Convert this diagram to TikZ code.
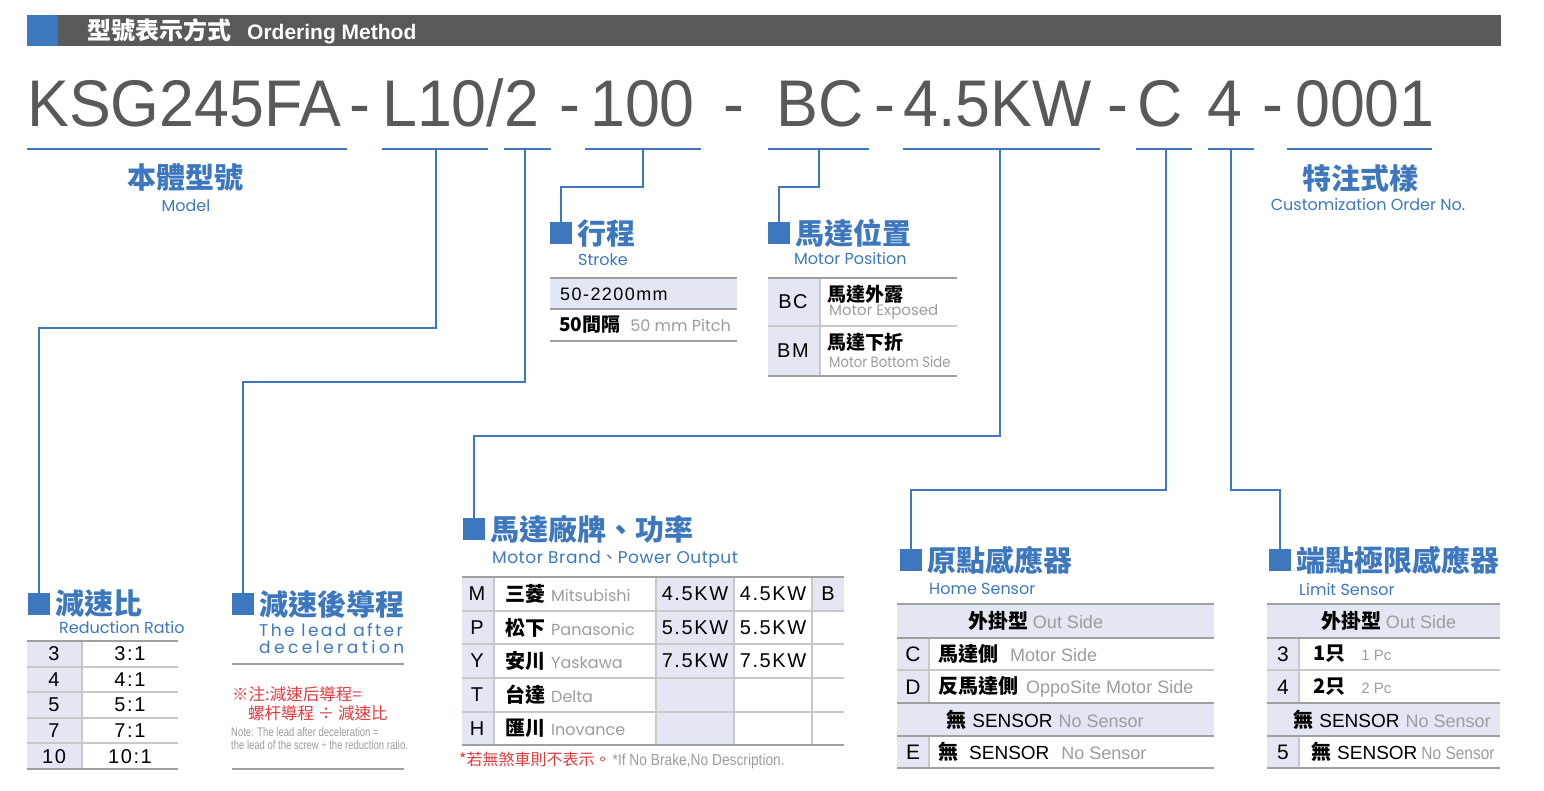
\documentclass[tikz,border=0pt]{standalone}
\usepackage{fontspec}
\setmainfont{Liberation Sans}
\newfontfamily\cjk{Noto Sans CJK TC}
\newfontfamily\geo{Poppins}
\newfontfamily\geonarrow[FakeStretch=0.88]{Poppins}
\newfontfamily\codefont[FakeStretch=0.95]{Liberation Sans}
\newfontfamily\spaced[LetterSpace=8]{Liberation Sans}
\newfontfamily\narrow[FakeStretch=0.76]{Liberation Sans}
\newfontfamily\narrowb[FakeStretch=0.86]{Liberation Sans}
\usetikzlibrary{positioning}
\definecolor{ksblue}{HTML}{3D77BE}
\definecolor{barcol}{HTML}{59585A}
\definecolor{codecol}{HTML}{59595B}
\definecolor{cellbg}{HTML}{E3E7F3}
\definecolor{rulecol}{HTML}{A0A0A0}
\definecolor{haircol}{HTML}{C8C8C8}
\definecolor{notered}{HTML}{E23B41}
\definecolor{softgray}{HTML}{9C9C9C}
\newcommand\fsz[1]{\fontsize{#1}{#1}\selectfont}
\newcommand\zb[2][20]{{\cjk\bfseries\fsz{#1}#2}}
\newcommand\gr[2][18]{{\rmfamily\mdseries\fsz{#1}\color{softgray}#2}}
\newcommand\ltr[2][19]{{\rmfamily\mdseries\fsz{#1}#2}}
\tikzstyle{code}=[anchor=base west,inner sep=0,text=codecol,font=\codefont\fsz{66}]
\tikzstyle{uline}=[ksblue,line width=2]
\tikzstyle{conn}=[ksblue,line width=2]
\tikzstyle{sq}=[fill=ksblue,minimum size=22,inner sep=0]
\tikzstyle{ttl}=[inner sep=0,text=ksblue,font=\cjk\bfseries\fsz{29}]
\tikzstyle{sub}=[anchor=west,inner sep=0,text=ksblue,font=\geo\fsz{16}]
\tikzstyle{rule}=[rulecol,line width=2]
\tikzstyle{rowline}=[haircol,line width=1.2]
\tikzstyle{cell}=[inner sep=0]
\tikzstyle{num}=[inner sep=0,font=\spaced\fsz{20}]

\begin{document}
\begin{tikzpicture}[x=1pt,y=-1pt]
  \useasboundingbox (0,0) rectangle (1544,791);

  % HEADER
  \fill[barcol] (27,15) rectangle (1501,46);
  \fill[ksblue] (27,15) rectangle (58,46);
  \node[anchor=west,inner sep=0,text=white] (head) at (87,31)
    {\zb[24]{型號表示方式}\hspace{16pt}{\rmfamily\bfseries\fsz{21}Ordering Method}};

  % MODEL CODE
  \foreach \x/\t [count=\i] in {27/KSG245FA,349/-,382/{L10/2},559/-,590/100,723/-,776/BC,
      874/-,903/4.5KW,1107/-,1137/C,1207/4,1262/-,1295/0001}
    \node[code] (code\i) at (\x,127) {\t};
  \foreach \a/\b in {27/347,382/488,504/551,585/701,768/869,903/1100,1136/1192,1208/1254,1287/1432}
    \draw[uline] (\a,149) -- (\b,149);
  \coordinate (uL) at (436,149);  % L10
  \coordinate (uS) at (525,149);  % /2
  \coordinate (uT) at (643,149);  % 100
  \coordinate (uB) at (819,149);  % BC
  \coordinate (uK) at (1000,149); % 4.5KW
  \coordinate (uC) at (1166,149); % C
  \coordinate (uN) at (1231,149); % 4

  % SQUARES
  \node[sq] (sqRatio) at (39,604) {};
  \node[sq] (sqLead) at (243,604) {};
  \node[sq] (sqStroke) at (561,233) {};
  \node[sq] (sqPos) at (779,233) {};
  \node[sq] (sqBrand) at (474,529) {};
  \node[sq] (sqHome) at (911,560) {};
  \node[sq] (sqLimit) at (1280,560) {};

  % CONNECTORS
  \draw[conn] (uL) -- ++(0,179) -| (sqRatio.north);
  \draw[conn] (uS) -- ++(0,233) -| (sqLead.north);
  \draw[conn] (uT) -- ++(0,38) -| (sqStroke.north);
  \draw[conn] (uB) -- ++(0,38) -| (sqPos.north);
  \draw[conn] (uK) -- ++(0,287) -| (sqBrand.north);
  \draw[conn] (uC) -- ++(0,341) -| (sqHome.north);
  \draw[conn] (uN) -- ++(0,341) -| (sqLimit.north);

  % TITLES
  \node[ttl] (tModel) at (185,178) {本體型號};
  \node[cell,text=ksblue,font=\geo\fsz{16}] (sModel) at (186,206) {Model};
  \node[ttl] (tCustom) at (1360,178) {特注式樣};
  \node[cell,text=ksblue,font=\geo\fsz{16}] (sCustom) at (1368,204) {Customization Order No.};
  \node[ttl,right=5pt of sqRatio] (tRatio) {減速比};
  \node[sub] (sRatio) at (59,627) {Reduction Ratio};
  \node[ttl,right=5pt of sqLead] (tLead) {減速後導程};
  \node[sub] (sLead1) at (259,630) {\fsz{17}\addfontfeature{LetterSpace=14}The lead after};
  \node[sub] (sLead2) at (259,647) {\fsz{17}\addfontfeature{LetterSpace=20}deceleration};
  \node[ttl,right=5pt of sqStroke] (tStroke) {行程};
  \node[sub] (sStroke) at (578,260) {Stroke};
  \node[ttl,right=5pt of sqPos] (tPos) {馬達位置};
  \node[sub] (sPos) at (794,258) {Motor Position};
  \node[ttl,right=5pt of sqBrand] (tBrand) {馬達廠牌、功率};
  \node[sub] (sBrand) at (492,559) {\fsz{17}\addfontfeature{LetterSpace=3}Motor Brand{\cjk 、}Power Output};
  \node[ttl,right=5pt of sqHome] (tHome) {原點感應器};
  \node[sub] (sHome) at (929,589) {Home Sensor};
  \node[ttl,right=5pt of sqLimit] (tLimit) {端點極限感應器};
  \node[sub] (sLimit) at (1299,589) {Limit Sensor};

  % RATIO TABLE
  \fill[cellbg] (27,641) rectangle (82,769);
  \draw[rowline] (82,641) -- (82,769);
  \foreach \y in {667,692,718,743} \draw[rowline] (27,\y) -- (178,\y);
  \draw[rule] (27,641) -- (178,641);
  \draw[rule] (27,769) -- (178,769);
  \foreach \ky/\rt [count=\i] in {3/3:1,4/4:1,5/5:1,7/7:1,10/10:1}{
    \node[num] (rk\i) at (54,641+25.6*\i-12.8) {\ky};
    \node[num] (rr\i) at (130,641+25.6*\i-12.8) {\rt};
  }

  % LEAD NOTE
  \draw[rule] (232,664) -- (404,664);
  \node[cell,anchor=west,text=notered] (nz1) at (232,694) {\cjk\fsz{16.5}※注:減速后導程=};
  \node[cell,anchor=west,text=notered] (nz2) at (248,713) {\cjk\fsz{16.5}螺杆導程 ÷ 減速比};
  \node[cell,anchor=west,text=softgray] (ne1) at (231,732) {\narrow\fsz{12.5}Note: The lead after deceleration =};
  \node[cell,anchor=west,text=softgray] (ne2) at (231,745) {\narrow\fsz{12.5}the lead of the screw ÷ the reduction ratio.};
  \draw[rule] (232,769) -- (404,769);

  % STROKE TABLE
  \fill[cellbg] (550,278) rectangle (737,309);
  \draw[rule] (550,278) -- (737,278);
  \draw[rule] (550,309) -- (737,309);
  \draw[rule] (550,341) -- (737,341);
  \node[cell,anchor=west,font=\spaced\fsz{18}] (st1) at (560,294) {50-2200mm};
  \node[cell,anchor=west] (st2) at (559,325) {\zb[19]{50間隔}\hspace{10pt}{\geo\fsz{16}\color{softgray}50 mm Pitch}};

  % POSITION TABLE
  \fill[cellbg] (768,278) rectangle (820,376);
  \draw[rowline] (820,278) -- (820,376);
  \draw[rule] (768,278) -- (957,278);
  \draw[rowline] (768,326) -- (957,326);
  \draw[rule] (768,376) -- (957,376);
  \node[num] (pBC) at (793,302) {BC};
  \node[num] (pBM) at (793,351) {BM};
  \node[cell,anchor=west] (pBCz) at (827,294) {\zb[19]{馬達外露}};
  \node[cell,anchor=west] (pBCe) at (829,312) {\geo\fsz{15}\color{softgray}Motor Exposed};
  \node[cell,anchor=west] (pBMz) at (827,342) {\zb[19]{馬達下折}};
  \node[cell,anchor=west] (pBMe) at (829,362) {\geonarrow\fsz{15}\color{softgray}Motor Bottom Side};

  % BRAND TABLE
  \fill[cellbg] (462,577) rectangle (494,745);
  \fill[cellbg] (656,577) rectangle (734,745);
  \fill[cellbg] (812,577) rectangle (844,611);
  \foreach \x in {494,656,734,812} \draw[rowline] (\x,577) -- (\x,745);
  \foreach \y in {611,644,678,712} \draw[rowline] (462,\y) -- (844,\y);
  \draw[rule] (462,577) -- (844,577);
  \draw[rule] (462,745) -- (844,745);
  \foreach \ky/\nm/\en [count=\i] in {M/三菱/Mitsubishi,P/松下/Panasonic,Y/安川/Yaskawa,T/台達/Delta,H/匯川/Inovance}{
    \node[num] (bk\i) at (477,577+33.6*\i-16.8) {\ky};
    \node[cell,anchor=west] (bn\i) at (505,577+33.6*\i-16.8) {\zb{\nm}\hspace{6pt}{\geo\fsz{16}\color{softgray}\en}};
  }
  \foreach \p [count=\i] in {4.5KW,5.5KW,7.5KW}{
    \node[num] (bp\i) at (695,577+33.6*\i-16.8) {\p};
    \node[num] (bq\i) at (773,577+33.6*\i-16.8) {\p};
  }
  \node[num] (bB) at (828,594) {B};
  \node[cell,anchor=west] (nBrake) at (459,760)
    {{\cjk\fsz{16}\color{notered}*若無煞車則不表示。}\hspace{2pt}{\narrowb\fsz{16}\color{softgray}*If No Brake,No Description.}};

  % HOME SENSOR TABLE
  \fill[cellbg] (897,604) rectangle (1214,638);
  \fill[cellbg] (897,703) rectangle (1214,736);
  \fill[cellbg] (897,638) rectangle (929,703);
  \fill[cellbg] (897,736) rectangle (929,768);
  \draw[rowline] (929,638) -- (929,703) (929,736) -- (929,768);
  \foreach \y in {604,638,703,736,768} \draw[rule] (897,\y) -- (1214,\y);
  \draw[rowline] (897,670) -- (1214,670);
  \node[cell] (h1) at (1036,621) {\zb{外掛型}\hspace{4pt}\gr{Out Side}};
  \node[cell] (hC) at (913,654) {\ltr[21]{C}};
  \node[cell,anchor=west] (hCt) at (938,654) {\zb{馬達側}\hspace{12pt}\gr{Motor Side}};
  \node[cell] (hD) at (913,687) {\ltr[21]{D}};
  \node[cell,anchor=west] (hDt) at (938,687) {\zb{反馬達側}\hspace{8pt}\gr{OppoSite Motor Side}};
  \node[cell] (h4) at (1045,720) {\zb{無}\hspace{6pt}\ltr{SENSOR}\hspace{6pt}\gr{No Sensor}};
  \node[cell] (hE) at (913,752) {\ltr[21]{E}};
  \node[cell,anchor=west] (hEt) at (938,752) {\zb{無}\hspace{11pt}\ltr{SENSOR}\hspace{12pt}\gr{No Sensor}};

  % LIMIT SENSOR TABLE
  \fill[cellbg] (1267,604) rectangle (1500,638);
  \fill[cellbg] (1267,703) rectangle (1500,736);
  \fill[cellbg] (1267,638) rectangle (1299,703);
  \fill[cellbg] (1267,736) rectangle (1299,768);
  \draw[rowline] (1299,638) -- (1299,703) (1299,736) -- (1299,768);
  \foreach \y in {604,638,703,736,768} \draw[rule] (1267,\y) -- (1500,\y);
  \draw[rowline] (1267,670) -- (1500,670);
  \node[cell] (l1) at (1389,621) {\zb{外掛型}\hspace{4pt}\gr{Out Side}};
  \node[cell] (l3) at (1283,654) {\ltr[21]{3}};
  \node[cell,anchor=west] (l3t) at (1313,654) {\zb{1只}\hspace{16pt}\gr[15]{1 Pc}};
  \node[cell] (l4) at (1283,687) {\ltr[21]{4}};
  \node[cell,anchor=west] (l4t) at (1313,687) {\zb{2只}\hspace{16pt}\gr[15]{2 Pc}};
  \node[cell] (l5r) at (1392,720) {\zb{無}\hspace{6pt}\ltr{SENSOR}\hspace{6pt}\gr{No Sensor}};
  \node[cell] (l5) at (1283,752) {\ltr[21]{5}};
  \node[cell,anchor=west] (l5t) at (1311,752) {\zb{無}\hspace{6pt}\ltr{SENSOR}\hspace{4pt}{\narrowb\fsz{18}\color{softgray}No Sensor}};
\end{tikzpicture}
\end{document}
